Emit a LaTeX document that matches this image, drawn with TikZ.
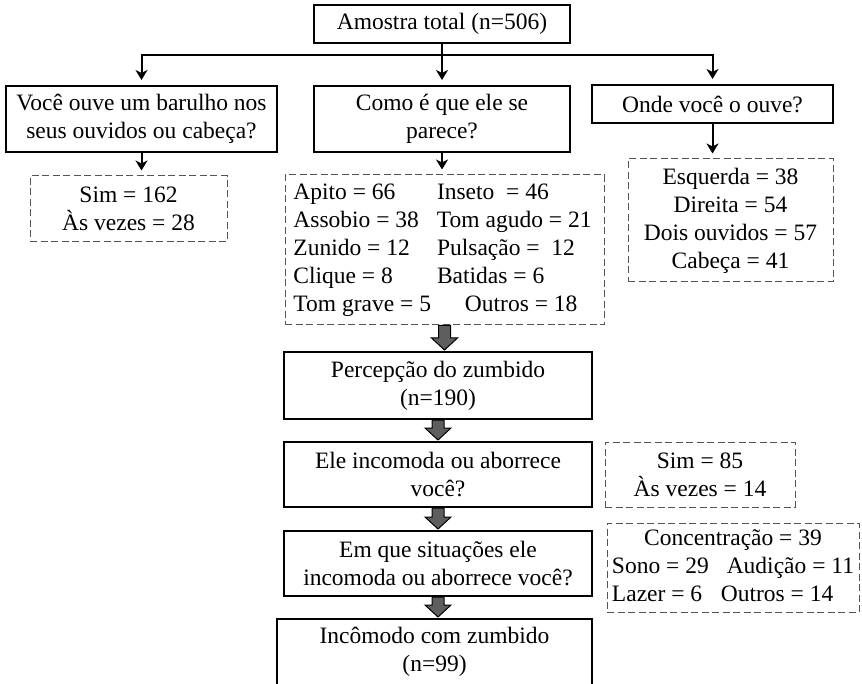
\documentclass[tikz,border=0pt]{standalone}
\usepackage{fontspec}
\setmainfont{Liberation Serif}
\usetikzlibrary{calc,arrows.meta}
\definecolor{arrowgray}{HTML}{5E5E5E}
\definecolor{dashgray}{HTML}{555555}
\newcommand{\fatarrow}[2]{%
  \path (#1.south) coordinate (fa-s) (#1.south |- #2.north) coordinate (fa-e);
  \draw[fatarr] ($(fa-s)+(-6,0)$) -- ($(fa-e)+(-6,-13)$) -- ($(fa-e)+(-13,-13)$)
    -- ($(fa-e)+(0,-1)$) -- ($(fa-e)+(13,-13)$) -- ($(fa-e)+(6,-13)$)
    -- ($(fa-s)+(6,0)$) -- cycle;}
\tikzset{
  box/.style={draw, line width=2pt, align=center, inner sep=0pt},
  dbox/.style={draw=dashgray, line width=1pt, dash pattern=on 7pt off 3.5pt, align=center, inner sep=0pt},
  thinarr/.style={line width=2pt, -{Stealth[length=10pt,width=12pt,inset=3pt]}, shorten >=5pt},
  fatarr/.style={fill=arrowgray, draw=black, line width=1pt}
}

\begin{document}
\begin{tikzpicture}[x=1pt,y=-1pt,font=\fontsize{23.5}{28}\selectfont]
  \useasboundingbox (0,0) rectangle (862,684);

  \node[box, minimum width=256pt, minimum height=38pt] (total) at (442,24) {Amostra total (n=506)};
  \node[box, minimum width=271pt, minimum height=66pt] (ouve) at (141.5,119) {Você ouve um barulho nos\\seus ouvidos ou cabeça?};
  \node[box, minimum width=256pt, minimum height=66pt] (parece) at (442,119) {Como é que ele se\\parece?};
  \node[box, minimum width=241pt, minimum height=38pt] (onde) at (712.5,104) {Onde você o ouve?};

  \node[dbox, minimum width=197pt, minimum height=66pt] (ouveres) at (128.5,209) {Sim = 162\\Às vezes = 28};
  \node[dbox, minimum width=319pt, minimum height=150pt] (tipos) at (444.5,250) {%
    \begin{tabular}{@{}l@{\hspace{6pt}}l@{\hspace{4pt}}}
      Apito = 66 & Inseto~ = 46\\
      Assobio = 38 & Tom agudo = 21\\
      Zunido = 12 & Pulsação = ~12\\
      Clique = 8 & Batidas = 6\\
      Tom grave = 5 & \hspace{28pt}Outros = 18
    \end{tabular}};
  \node[dbox, minimum width=205pt, minimum height=123pt] (local) at (730.5,220.5) {Esquerda = 38\\Direita = 54\\Dois ouvidos = 57\\Cabeça = 41};

  \node[box, minimum width=308pt, minimum height=67pt] (percep) at (438,385.5) {Percepção do zumbido\\(n=190)};
  \node[box, minimum width=308pt, minimum height=65pt] (incomoda) at (438,474.5) {Ele incomoda ou aborrece\\você?};
  \node[dbox, minimum width=190pt, minimum height=65pt] (incres) at (700,474.5) {Sim = 85\\Às vezes = 14};
  \node[box, minimum width=308pt, minimum height=65pt] (situacao) at (438,563.5) {Em que situações ele\\incomoda ou aborrece você?};
  \node[dbox, minimum width=252pt, minimum height=89pt] (sitres) at (733,567.5) {%
    \begin{tabular}{@{}l@{\hspace{12pt}}l@{}}
      \multicolumn{2}{c}{Concentração = 39}\\
      Sono = 29 & \hspace{6pt}Audição = 11\\
      Lazer = 6 & Outros = 14
    \end{tabular}};
  \node[box, minimum width=315pt, minimum height=66pt] (final) at (434.5,652) {Incômodo com zumbido\\(n=99)};

  % thin arrows
  \coordinate (split) at (442,55);
  \draw[thinarr] (total) -- (parece);
  \draw[thinarr] (split) -| (ouve.north);
  \draw[thinarr] (split) -| (onde.north);
  \draw[thinarr] (ouve.south) -- (ouve.south |- ouveres.north);
  \draw[thinarr] (parece.south) -- (parece.south |- tipos.north);
  \draw[thinarr] (onde.south) -- (onde.south |- local.north);

  % gray arrows
  \fatarrow{tipos}{percep}
  \fatarrow{percep}{incomoda}
  \fatarrow{incomoda}{situacao}
  \fatarrow{situacao}{final}
\end{tikzpicture}
\end{document}
